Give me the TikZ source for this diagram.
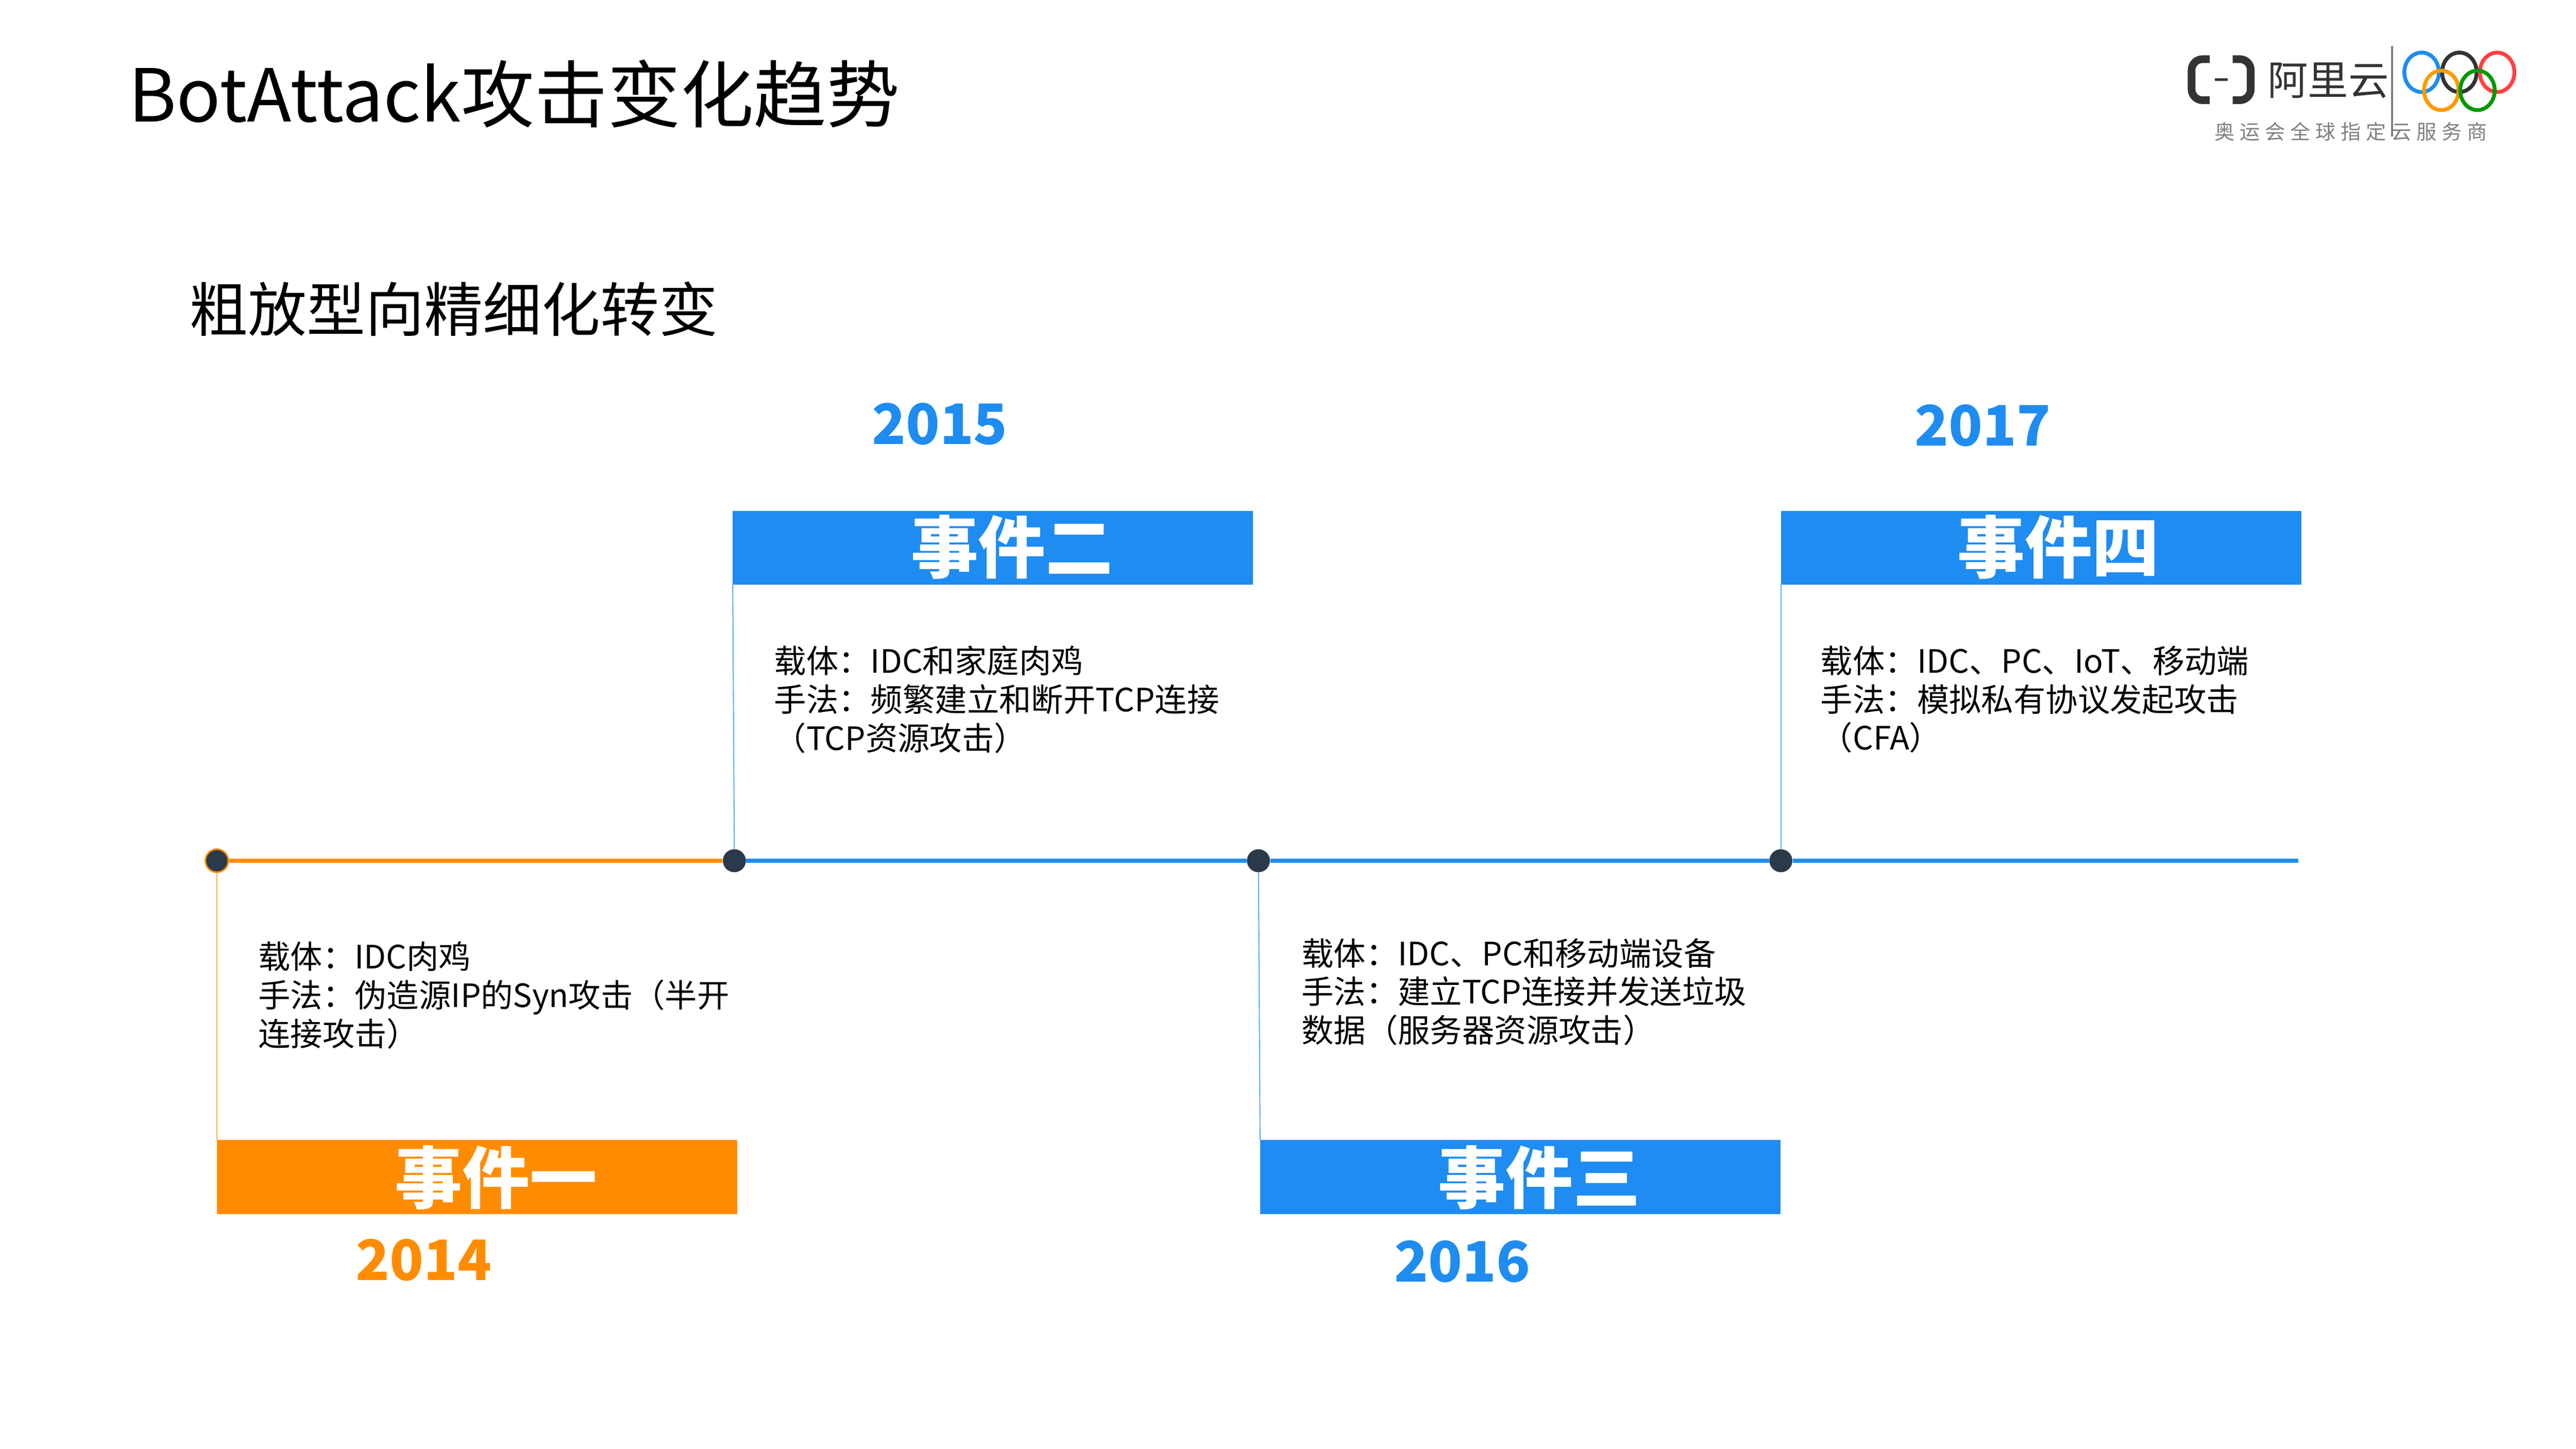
\documentclass[tikz,border=0pt]{standalone}
\usepackage{fontspec}
\setmainfont{Noto Sans CJK SC}
\definecolor{ablue}{HTML}{1E8CF0}
\definecolor{aorange}{HTML}{FF8C00}
\definecolor{adot}{HTML}{2B3A4A}
\begin{document}
\begin{tikzpicture}[x=0.03cm,y=-0.03cm,
  evbox/.style={inner sep=0,outer sep=0,minimum width=9.5cm,minimum height=1.35cm},
  evtext/.style={text=white,font=\fontsize{35}{35}\selectfont\bfseries,inner sep=0},
  year/.style={font=\fontsize{29}{29}\selectfont\bfseries},
  desc/.style={anchor=north west,align=left,inner sep=0,font=\fontsize{16.7}{20}\selectfont},
  dotst/.style={circle,fill=adot,minimum size=0.42cm,inner sep=0}]
\useasboundingbox (0,0) rectangle (1568,882);
\node[anchor=west,inner sep=0,font=\fontsize{38}{38}\selectfont] (title) at (78,57) {BotAttack攻击变化趋势};
\node[anchor=west,inner sep=0,font=\fontsize{30.5}{30}\selectfont] (sub) at (115,188) {粗放型向精细化转变};
% logo
\draw[line width=0.14cm,color=black!80,rounded corners=0.2cm] (1345,36) -- (1334,36) -- (1334,61) -- (1345,61);
\draw[line width=0.14cm,color=black!80,rounded corners=0.2cm] (1359,36) -- (1370,36) -- (1370,61) -- (1359,61);
\draw[line width=0.05cm,color=black!80] (1348,48.5) -- (1356,48.5);
\node[anchor=west,inner sep=0,font=\fontsize{21}{21}\selectfont,text=black!80] (logo) at (1380,49) {阿里云};
\draw[gray,line width=0.04cm] (1456,28) -- (1456,83);
\foreach \x/\y/\c in {1474/44/ablue,1497/44/black!80,1520/44/red!75,1486/55/orange!80!yellow,1508/55/green!60!black}
  \draw[\c,line width=0.07cm] (\x,\y) ellipse [x radius=10.5, y radius=12];
\node[inner sep=0,font=\fontsize{10.5}{11}\selectfont,text=gray] (logosub) at (1431,80) {奥\hspace{0.25em}运\hspace{0.25em}会\hspace{0.25em}全\hspace{0.25em}球\hspace{0.25em}指\hspace{0.25em}定\hspace{0.25em}云\hspace{0.25em}服\hspace{0.25em}务\hspace{0.25em}商};
% boxes
\node[evbox,fill=ablue,anchor=north west] (e2) at (446,311) {};
\node[evbox,fill=ablue,anchor=north west] (e4) at (1084,311) {};
\node[evbox,fill=aorange,anchor=north west] (e1) at (132,694) {};
\node[evbox,fill=ablue,anchor=north west] (e3) at (767,694) {};
\node[evtext] (l2) at (616,333) {事件二};
\node[evtext] (l4) at (1253,333) {事件四};
\node[evtext] (l1) at (302,717) {事件一};
\node[evtext] (l3) at (937,717) {事件三};
\node[year,text=ablue] (y15) at (572,258) {2015};
\node[year,text=ablue] (y17) at (1207,259) {2017};
\node[year,text=aorange] (y14) at (258,767) {2014};
\node[year,text=ablue] (y16) at (890,768) {2016};
% timeline
\coordinate (end) at (1399,524);
\node[dotst,draw=aorange,line width=0.03cm] (d1) at (132,524) {};
\node[dotst] (d2) at (447,524) {};
\node[dotst] (d3) at (766,524) {};
\node[dotst] (d4) at (1084,524) {};
\draw[aorange,line width=0.07cm] (d1) -- (d2);
\draw[ablue,line width=0.07cm] (d2) -- (d3) -- (d4) -- (end);
\draw[aorange!70,line width=0.02cm] (d1) -- (e1.north west);
\draw[ablue!70,line width=0.02cm] (d2) -- (e2.south west);
\draw[ablue!70,line width=0.02cm] (d3) -- (e3.north west);
\draw[ablue!70,line width=0.02cm] (d4) -- (e4.south west);
% descriptions
\node[desc] (t2) at (471,393) {载体：IDC和家庭肉鸡\\手法：频繁建立和断开TCP连接\\（TCP资源攻击）};
\node[desc] (t4) at (1108,393) {载体：IDC、PC、IoT、移动端\\手法：模拟私有协议发起攻击\\（CFA）};
\node[desc] (t1) at (157,573) {载体：IDC肉鸡\\手法：伪造源IP的Syn攻击（半开\\连接攻击）};
\node[desc] (t3) at (792,571) {载体：IDC、PC和移动端设备\\手法：建立TCP连接并发送垃圾\\数据（服务器资源攻击）};
\end{tikzpicture}
\end{document}
